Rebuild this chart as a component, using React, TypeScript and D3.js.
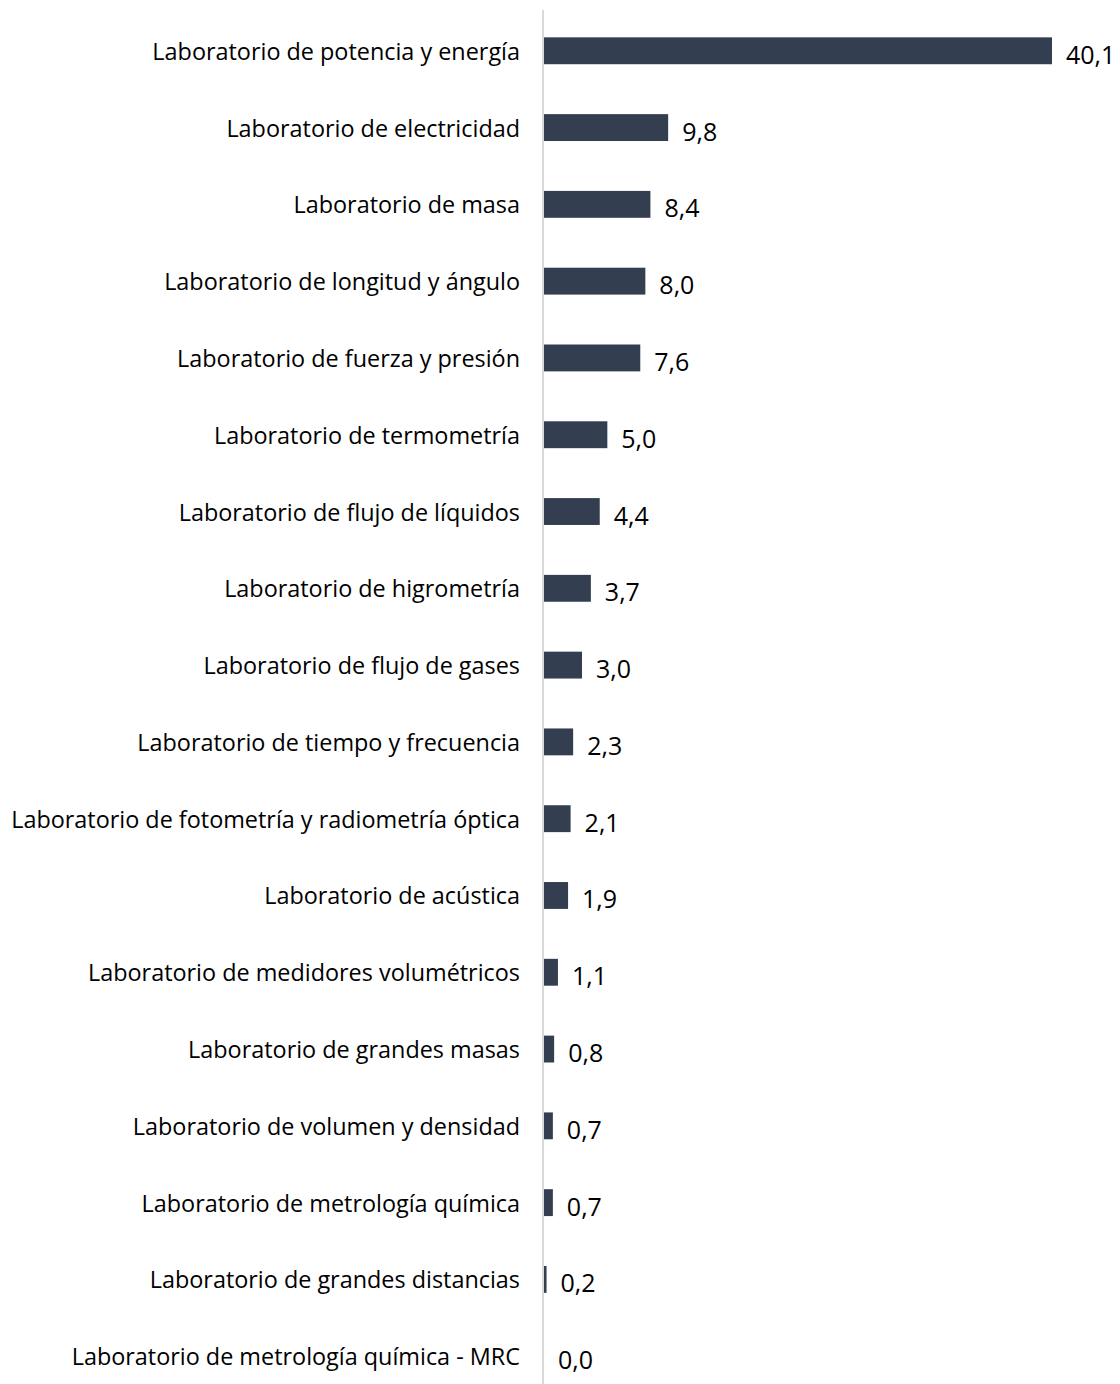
import React from 'react';
import * as d3 from 'd3';

const categories = [
  'Laboratorio de potencia y energía',
  'Laboratorio de electricidad',
  'Laboratorio de masa',
  'Laboratorio de longitud y ángulo',
  'Laboratorio de fuerza y presión',
  'Laboratorio de termometría',
  'Laboratorio de flujo de líquidos',
  'Laboratorio de higrometría',
  'Laboratorio de flujo de gases',
  'Laboratorio de tiempo y frecuencia',
  'Laboratorio de fotometría y radiometría óptica',
  'Laboratorio de acústica',
  'Laboratorio de medidores volumétricos',
  'Laboratorio de grandes masas',
  'Laboratorio de volumen y densidad',
  'Laboratorio de metrología química',
  'Laboratorio de grandes distancias',
  'Laboratorio de metrología química - MRC',
];

const values = [40.1, 9.8, 8.4, 8.0, 7.6, 5.0, 4.4, 3.7, 3.0, 2.3, 2.1, 1.9, 1.1, 0.8, 0.7, 0.7, 0.2, 0.0];

const width = 1120;
const height = 1384;
const font = '"Open Sans", sans-serif';

const App: React.FC = () => {
  const axisX = 543;
  const x = d3.scaleLinear().domain([0, 40.1]).range([axisX + 1, 1052]);
  const y = d3.scaleBand<string>()
    .domain(categories)
    .range([12, 1395])
    .paddingInner(0.65)
    .paddingOuter(0.33);

  const fmt = (v: number) => v.toFixed(1).replace('.', ',');

  return (
    <svg
      width={width}
      height={height}
      style={{ position: 'absolute', left: 0, top: 0, background: '#fff' }}
    >
      <line x1={axisX} x2={axisX} y1={10} y2={height} stroke="#d9d9d9" strokeWidth={2} />
      {categories.map((c, i) => {
        const yc = (y(c) || 0) + y.bandwidth() / 2;
        const v = values[i];
        return (
          <g key={c}>
            <text
              x={axisX - 23}
              y={yc}
              textAnchor="end"
              dominantBaseline="central"
              fontFamily={font}
              fontSize={23.4}
              fill="#000"
            >
              {c}
            </text>
            <rect
              x={x(0)}
              y={y(c)}
              width={Math.max(0, x(v) - x(0))}
              height={y.bandwidth()}
              fill="#333f50"
            />
            <text
              x={x(v) + 14}
              y={yc + 3}
              dominantBaseline="central"
              fontFamily={font}
              fontSize={25}
              fill="#000"
            >
              {fmt(v)}
            </text>
          </g>
        );
      })}
    </svg>
  );
};

export default App;
